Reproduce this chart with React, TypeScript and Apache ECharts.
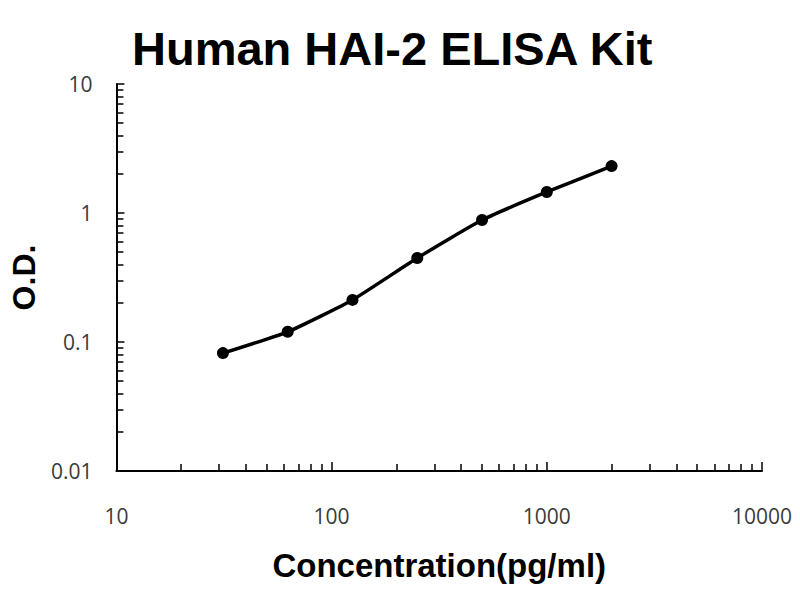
import { useEffect, useRef } from 'react';
import * as echarts from 'echarts';

// standard curve: concentration (pg/ml) vs O.D.
const concentrations = [31.25, 62.5, 125, 250, 500, 1000, 2000];
const odValues = [0.082, 0.12, 0.212, 0.448, 0.883, 1.455, 2.31];

const xMajorTicks = [10, 100, 1000, 10000];
const xMinorTicks = [
  20, 30, 40, 50, 60, 70, 80, 90,
  200, 300, 400, 500, 600, 700, 800, 900,
  2000, 3000, 4000, 5000, 6000, 7000, 8000, 9000,
];
const yMajorTicks = [0.01, 0.1, 1, 10];
const yMinorTicks = [
  0.02, 0.03, 0.04, 0.05, 0.06, 0.07, 0.08, 0.09,
  0.2, 0.3, 0.4, 0.5, 0.6, 0.7, 0.8, 0.9,
  2, 3, 4, 5, 6, 7, 8, 9,
];

const FONT = '"Liberation Sans", Arial, sans-serif';
const AXIS_LINE = { show: true, lineStyle: { color: '#000', width: 2 } };
const LABEL_STYLE = { color: '#3a3a3a', fontSize: 21, fontFamily: '"Open Sans", sans-serif' };

function formatTick(v: number): string {
  // keep 0.01 / 0.1 as written, no float noise
  return String(Number(v.toPrecision(6)));
}

export default function App() {
  const chartRef = useRef<HTMLDivElement>(null);

  useEffect(() => {
    if (!chartRef.current) return;
    const chart = echarts.init(chartRef.current, null, { renderer: 'svg' });

    const option: echarts.EChartsOption = {
      animation: false,
      backgroundColor: '#fff',
      title: {
        text: 'Human HAI-2 ELISA Kit',
        left: 127,
        top: 20,
        textStyle: { fontSize: 47, fontWeight: 'bold', color: '#000', fontFamily: FONT },
      },
      grid: { left: 111, right: 38, top: 84, bottom: 129, containLabel: false },
      xAxis: [
        {
          type: 'log',
          logBase: 10,
          min: 10,
          max: 10000,
          name: 'Concentration(pg/ml)',
          nameLocation: 'middle',
          nameGap: 78,
          nameTextStyle: { fontSize: 33, fontWeight: 'bold', color: '#000', fontFamily: FONT },
          axisLine: AXIS_LINE,
          axisTick: {
            show: true,
            inside: true,
            length: 9,
            customValues: xMajorTicks,
            lineStyle: { color: '#000', width: 1.5 },
          },
          axisLabel: {
            ...LABEL_STYLE,
            margin: 34,
            customValues: xMajorTicks,
            formatter: (v: number) => formatTick(v),
          },
          splitLine: { show: false },
          minorTick: { show: false },
        },
        {
          type: 'log',
          logBase: 10,
          min: 10,
          max: 10000,
          position: 'bottom',
          axisLine: { show: false },
          axisTick: {
            show: true,
            inside: true,
            length: 7,
            customValues: xMinorTicks,
            lineStyle: { color: '#000', width: 1.5 },
          },
          axisLabel: { show: false },
          splitLine: { show: false },
        },
      ],
      yAxis: [
        {
          type: 'log',
          logBase: 10,
          min: 0.01,
          max: 10,
          name: 'O.D.',
          nameLocation: 'middle',
          nameGap: 76,
          nameTextStyle: { fontSize: 32, fontWeight: 'bold', color: '#000', fontFamily: FONT },
          axisLine: AXIS_LINE,
          axisTick: {
            show: true,
            inside: true,
            length: 8,
            customValues: yMajorTicks,
            lineStyle: { color: '#000', width: 1.5 },
          },
          axisLabel: {
            ...LABEL_STYLE,
            margin: 24,
            customValues: yMajorTicks,
            formatter: (v: number) => formatTick(v),
          },
          splitLine: { show: false },
          minorTick: { show: false },
        },
        {
          type: 'log',
          logBase: 10,
          min: 0.01,
          max: 10,
          position: 'left',
          axisLine: { show: false },
          axisTick: {
            show: true,
            inside: true,
            length: 7,
            customValues: yMinorTicks,
            lineStyle: { color: '#000', width: 1.5 },
          },
          axisLabel: { show: false },
          splitLine: { show: false },
        },
      ],
      series: [
        {
          type: 'line',
          xAxisIndex: 0,
          yAxisIndex: 0,
          data: concentrations.map((c, i) => [c, odValues[i]]),
          smooth: 0.15,
          symbol: 'circle',
          symbolSize: 12,
          itemStyle: { color: '#000' },
          lineStyle: { color: '#000', width: 3.5 },
          z: 3,
        },
      ],
    };

    chart.setOption(option);
    return () => {
      chart.dispose();
    };
  }, []);

  return (
    <div
      ref={chartRef}
      style={{ position: 'fixed', left: 0, top: 0, width: 800, height: 600 }}
    />
  );
}
